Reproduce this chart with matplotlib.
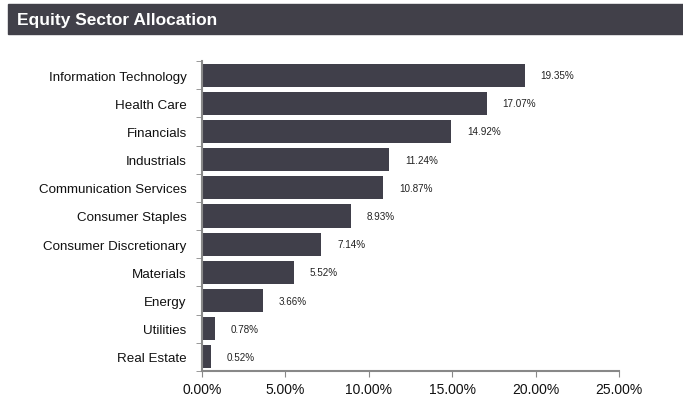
import matplotlib
matplotlib.use("Agg")
import matplotlib.pyplot as plt

categories = ["Information Technology", "Health Care", "Financials", "Industrials",
              "Communication Services", "Consumer Staples", "Consumer Discretionary",
              "Materials", "Energy", "Utilities", "Real Estate"]
values = [19.35, 17.07, 14.92, 11.24, 10.87, 8.93, 7.14, 5.52, 3.66, 0.78, 0.52]
xticks = [0, 5, 10, 15, 20, 25]
title = "Equity Sector Allocation"

plt.rcParams['font.family'] = ["Liberation Sans", "DejaVu Sans"]

bar_color = "#403f4a"
fig = plt.figure(figsize=(6.83, 4.06), dpi=100)
ax = fig.add_axes([202/683, 1-372/406, (619-202)/683, (372-62)/406])

y = list(range(len(categories)))
ax.barh(y, values, height=0.82, color=bar_color)
ax.set_ylim(len(categories)-0.5, -0.5)
ax.set_xlim(0, 25)
ax.set_yticks(y)
ax.set_yticklabels(categories, fontsize=9.6, color="#111111")
ax.set_xticks(xticks)
ax.set_xticklabels([f"{t:.2f}%" for t in xticks], fontsize=10, color="#111111")
ax.tick_params(axis='y', length=0, pad=11)
ax.tick_params(axis='x', length=4, color="#888888", direction='out', pad=4)
ax.set_yticks([i - 0.5 for i in range(len(categories)+1)], minor=True)
ax.tick_params(axis='y', which='minor', length=4, color="#888888")
for s in ["top", "right"]:
    ax.spines[s].set_visible(False)
for s in ["left", "bottom"]:
    ax.spines[s].set_color("#888888")
    ax.spines[s].set_linewidth(1.5)

for yi, v in zip(y, values):
    ax.annotate(f"{v:.2f}%", (v, yi), xytext=(11.5, 0), textcoords="offset points",
                va="center", ha="left", fontsize=7.1, color="#222222")

# title bar
fig.patches.append(plt.Rectangle((8/683, 1-35/406), 1-8/683, 30/406,
                                 transform=fig.transFigure, color="#414049", zorder=0))
fig.text(17/683, 1-20.5/406, title, color="white", fontsize=12.5, fontweight="bold",
         va="center", ha="left")

fig.savefig("out.png", dpi=100)
